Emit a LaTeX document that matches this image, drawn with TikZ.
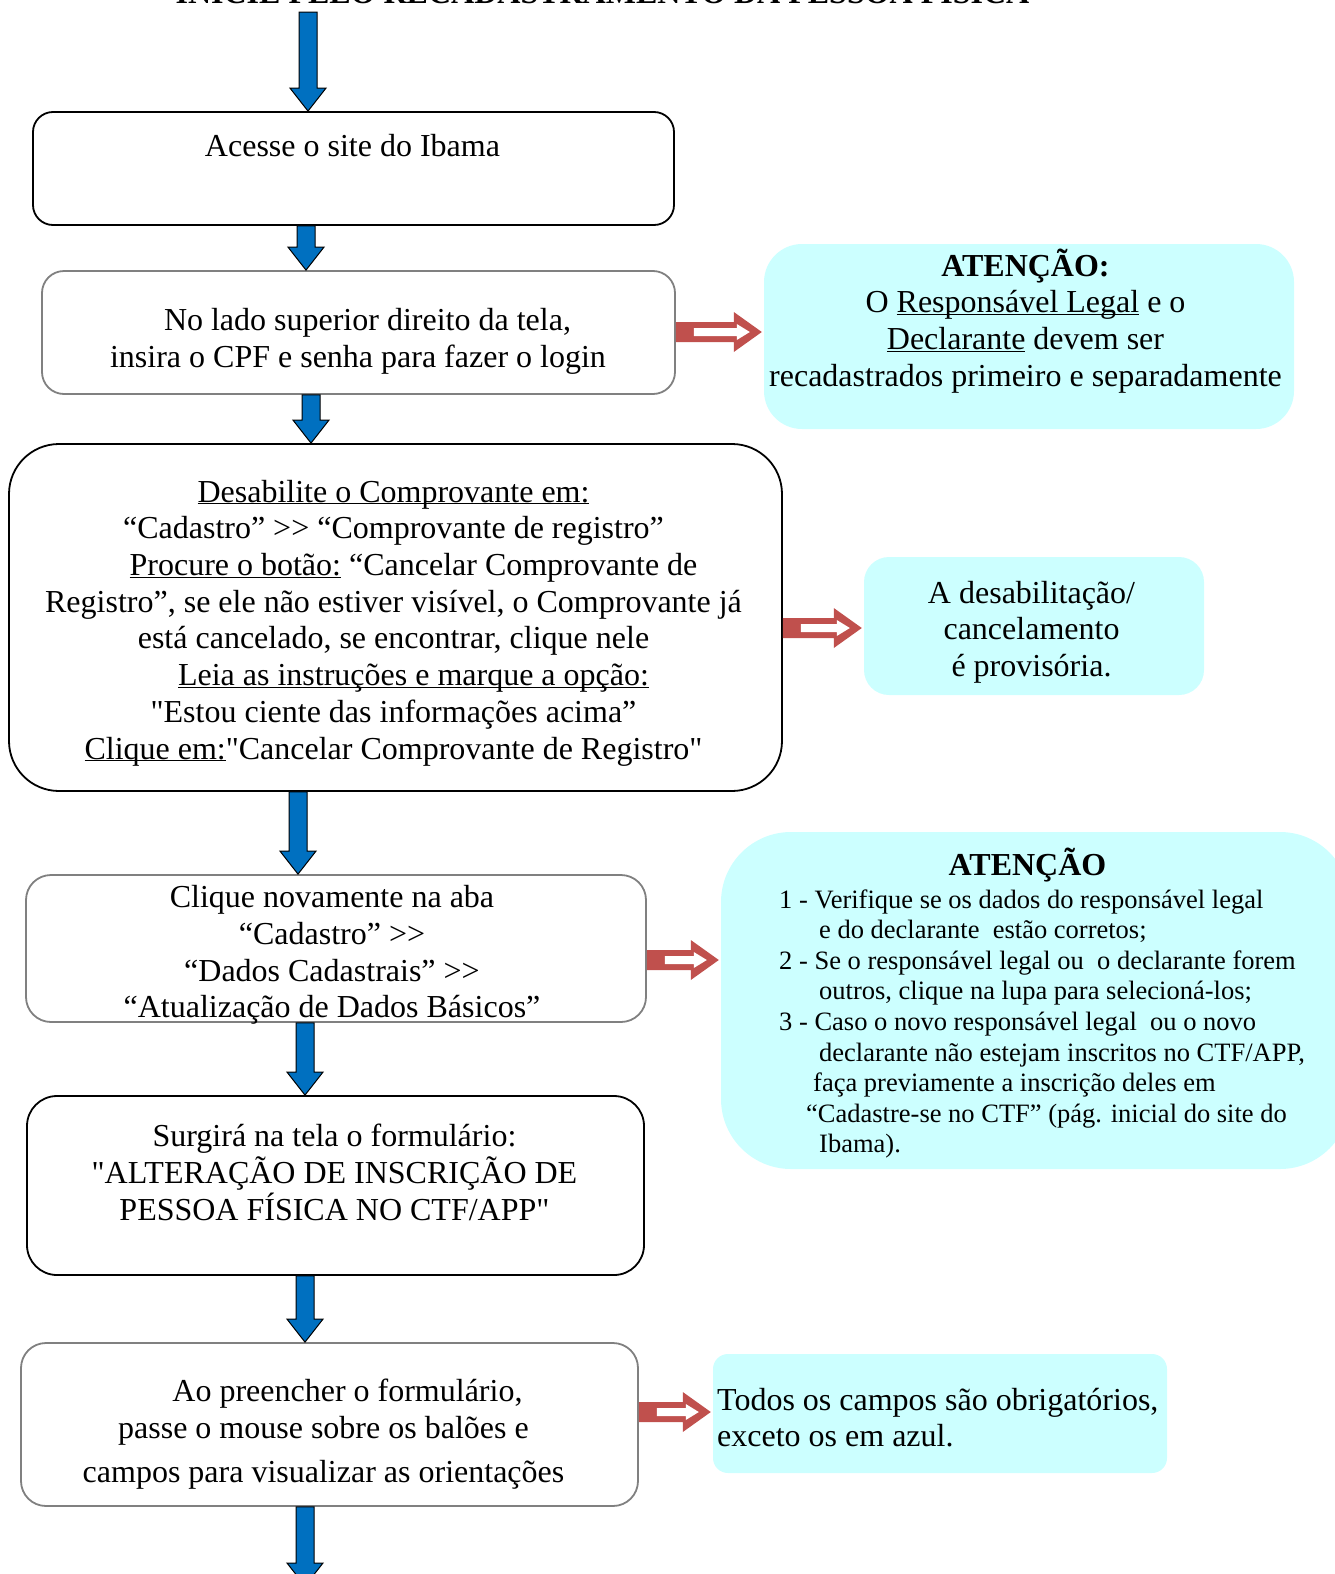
\documentclass[tikz,border=0pt]{standalone}
\usepackage{fontspec}
\setmainfont{Liberation Serif}[Ligatures=TeXOff]
\usetikzlibrary{calc}

\definecolor{flowblue}{HTML}{0070C0}
\definecolor{notered}{HTML}{C0504D}
\definecolor{notecyan}{HTML}{CCFFFF}
\definecolor{boxgrey}{HTML}{808080}

\newcommand{\bodysize}{\fontsize{32}{36.7}\selectfont}
\newcommand{\undl}[1]{$\underline{\smash{\hbox{#1}}}$}

% blue arrow down, #1 = x of the shaft, #2 = start, #3 = tip
\newcommand{\flowarrow}[3]{%
  \draw[arrowpath] let \p1=(#2), \p2=(#3) in
    (#1pt-9pt,\y1) -- (#1pt+9pt,\y1) -- (#1pt+9pt,\y2+23pt) -- (#1pt+18pt,\y2+23pt)
    -- (#1pt,\y2) -- (#1pt-18pt,\y2+23pt) -- (#1pt-9pt,\y2+23pt) -- cycle;}

% red hollow arrow from a box to its note, #3 = y of the arrow
\newcommand{\notearrow}[3]{%
  \fill[notered] let \p1=(#1.east), \p2=(#2.west) in
    (\x1,-#3pt+10pt) -- (\x2-30pt,-#3pt+10pt) -- (\x2-30pt,-#3pt+20pt) -- (\x2-2pt,-#3pt)
    -- (\x2-30pt,-#3pt-20pt) -- (\x2-30pt,-#3pt-10pt) -- (\x1,-#3pt-10pt) -- cycle;
  \fill[white] let \p1=(#1.east), \p2=(#2.west) in
    (\x1+18pt,-#3pt+4pt) -- (\x2-27pt,-#3pt+4pt) -- (\x2-27pt,-#3pt+8pt) -- (\x2-14pt,-#3pt)
    -- (\x2-27pt,-#3pt-8pt) -- (\x2-27pt,-#3pt-4pt) -- (\x1+18pt,-#3pt-4pt) -- cycle;}

\begin{document}
\begin{tikzpicture}[x=1pt, y=-1pt,
  flowbox/.style={draw=black, line width=1.8pt, fill=white, rectangle},
  greybox/.style={draw=boxgrey, line width=1.8pt, fill=white, rectangle},
  notebox/.style={fill=notecyan, rectangle},
  txt/.style={inner sep=0pt, align=center, font=\bodysize},
  arrowpath/.style={fill=flowblue, draw=black, line width=1pt, line join=miter}]

 \useasboundingbox (0,0) rectangle (1335,1574);

 \node[font=\bfseries\bodysize, inner sep=0pt, anchor=base] (title) at (602.5,3.5)
     {INICIE PELO RECADASTRAMENTO DA PESSOA FÍSICA};

 % main steps
 \node[flowbox, minimum width=641, minimum height=113, rounded corners=20pt] (box_1) at (353.5,168.5) {};
 \node[greybox, minimum width=633, minimum height=123, rounded corners=22pt] (box_2) at (358.5,332.5) {};
 \node[flowbox, minimum width=773, minimum height=347, rounded corners=50pt] (box_3) at (395.5,617.5) {};
 \node[greybox, minimum width=620, minimum height=147, rounded corners=25pt] (box_4) at (336,948.5) {};
 \node[flowbox, minimum width=617, minimum height=179, rounded corners=30pt] (box_5) at (335.5,1185.5) {};
 \node[greybox, minimum width=617, minimum height=163, rounded corners=25pt] (box_6) at (329.5,1424.5) {};

 % notes
 \node[notebox, minimum width=530, minimum height=185, rounded corners=38pt] (note_1) at (1029,336.5) {};
 \node[notebox, minimum width=340, minimum height=138, rounded corners=25pt] (note_2) at (1034,626) {};
 \node[notebox, minimum width=629, minimum height=337, rounded corners=70pt] (note_3) at (1035.5,1000.5) {};
 \node[notebox, minimum width=454, minimum height=119, rounded corners=15pt] (note_4) at (940,1413.5) {};

 % texts
 \node[txt] (txt_1) at (352.5,146) {Acesse o site do Ibama};
 \node[txt] (txt_2) at (358,341.5)
     {\hspace*{19pt}No lado superior direito da tela,\\ insira o CPF e senha para fazer o login};
 \node[txt] (txt_3) at (393.5,634)
     {\undl{Desabilite o Comprovante em:}\\
      “Cadastro” >> “Comprovante de registro”\\
      \hspace*{40pt}\undl{Procure o botão:} “Cancelar Comprovante de\\
      Registro”, se ele não estiver visível, o Comprovante já\\
      está cancelado, se encontrar, clique nele\\
      \hspace*{40pt}\undl{Leia as instruções e marque a opção:}\\
      "Estou ciente das informações acima”\\
      \undl{Clique em:}"Cancelar Comprovante de Registro"};
 \node[txt] (txt_4) at (332,955)
     {Clique novamente na aba\\ “Cadastro” >>\\ “Dados Cadastrais” >>\\ “Atualização de Dados Básicos”};
 \node[txt] (txt_5) at (334.5,1172.5)
     {Surgirá na tela o formulário:\\ "ALTERAÇÃO DE INSCRIÇÃO DE\\ PESSOA FÍSICA NO CTF/APP"};
 \node[txt] (txt_6) at (323.5,1434)
     {\hspace*{48pt}Ao preencher o formulário,\\ passe o mouse sobre os balões e\\[7pt] campos para visualizar as orientações};

 \node[txt] (txt_n1) at (1025.5,321)
     {\textbf{ATENÇÃO:}\\ O \undl{Responsável Legal} e o\\ \undl{Declarante} devem ser\\ recadastrados primeiro e separadamente};
 \node[txt] (txt_n2) at (1031.5,632)
     {A desabilitação/\\ cancelamento\hspace*{10pt}\\ é provisória.};
 \node[txt, font=\bfseries\bodysize] (head_n3) at (1027.5,865) {ATENÇÃO};
 \node[txt, anchor=west, align=left, font=\fontsize{26.5}{30.6}\selectfont] (txt_n3) at (779,1024)
     {1 - Verifique se os dados do responsável legal\\
      \hspace*{40pt}e do declarante\ \ estão corretos;\\
      2 - Se o responsável legal ou\ \ o declarante forem\\
      \hspace*{40pt}outros, clique na lupa para selecioná-los;\\
      3 - Caso o novo responsável legal\ \ ou o novo\\
      \hspace*{40pt}declarante não estejam inscritos no CTF/APP,\\
      \hspace*{34pt}faça previamente a inscrição deles em\\
      \hspace*{27pt}“Cadastre-se no CTF” (pág. inicial do site do\\
      \hspace*{40pt}Ibama).};
 \node[txt, anchor=west, align=left] (txt_n4) at (717,1417.5)
     {Todos os campos são obrigatórios,\\ exceto os em azul.};

 % blue flow arrows
 \coordinate (flow_start) at (308,12);
 \coordinate (flow_end) at (305,1586);
 \flowarrow{308}{flow_start}{box_1.north}
 \flowarrow{306}{box_1.south}{box_2.north}
 \flowarrow{311}{box_2.south}{box_3.north}
 \flowarrow{298}{box_3.south}{box_4.north}
 \flowarrow{305}{box_4.south}{box_5.north}
 \flowarrow{305}{box_5.south}{box_6.north}
 \flowarrow{305}{box_6.south}{flow_end}

 % red arrows to the notes
 \notearrow{box_2}{note_1}{332}
 \notearrow{box_3}{note_2}{628}
 \notearrow{box_4}{note_3}{960}
 \notearrow{box_6}{note_4}{1412}

\end{tikzpicture}
\end{document}
